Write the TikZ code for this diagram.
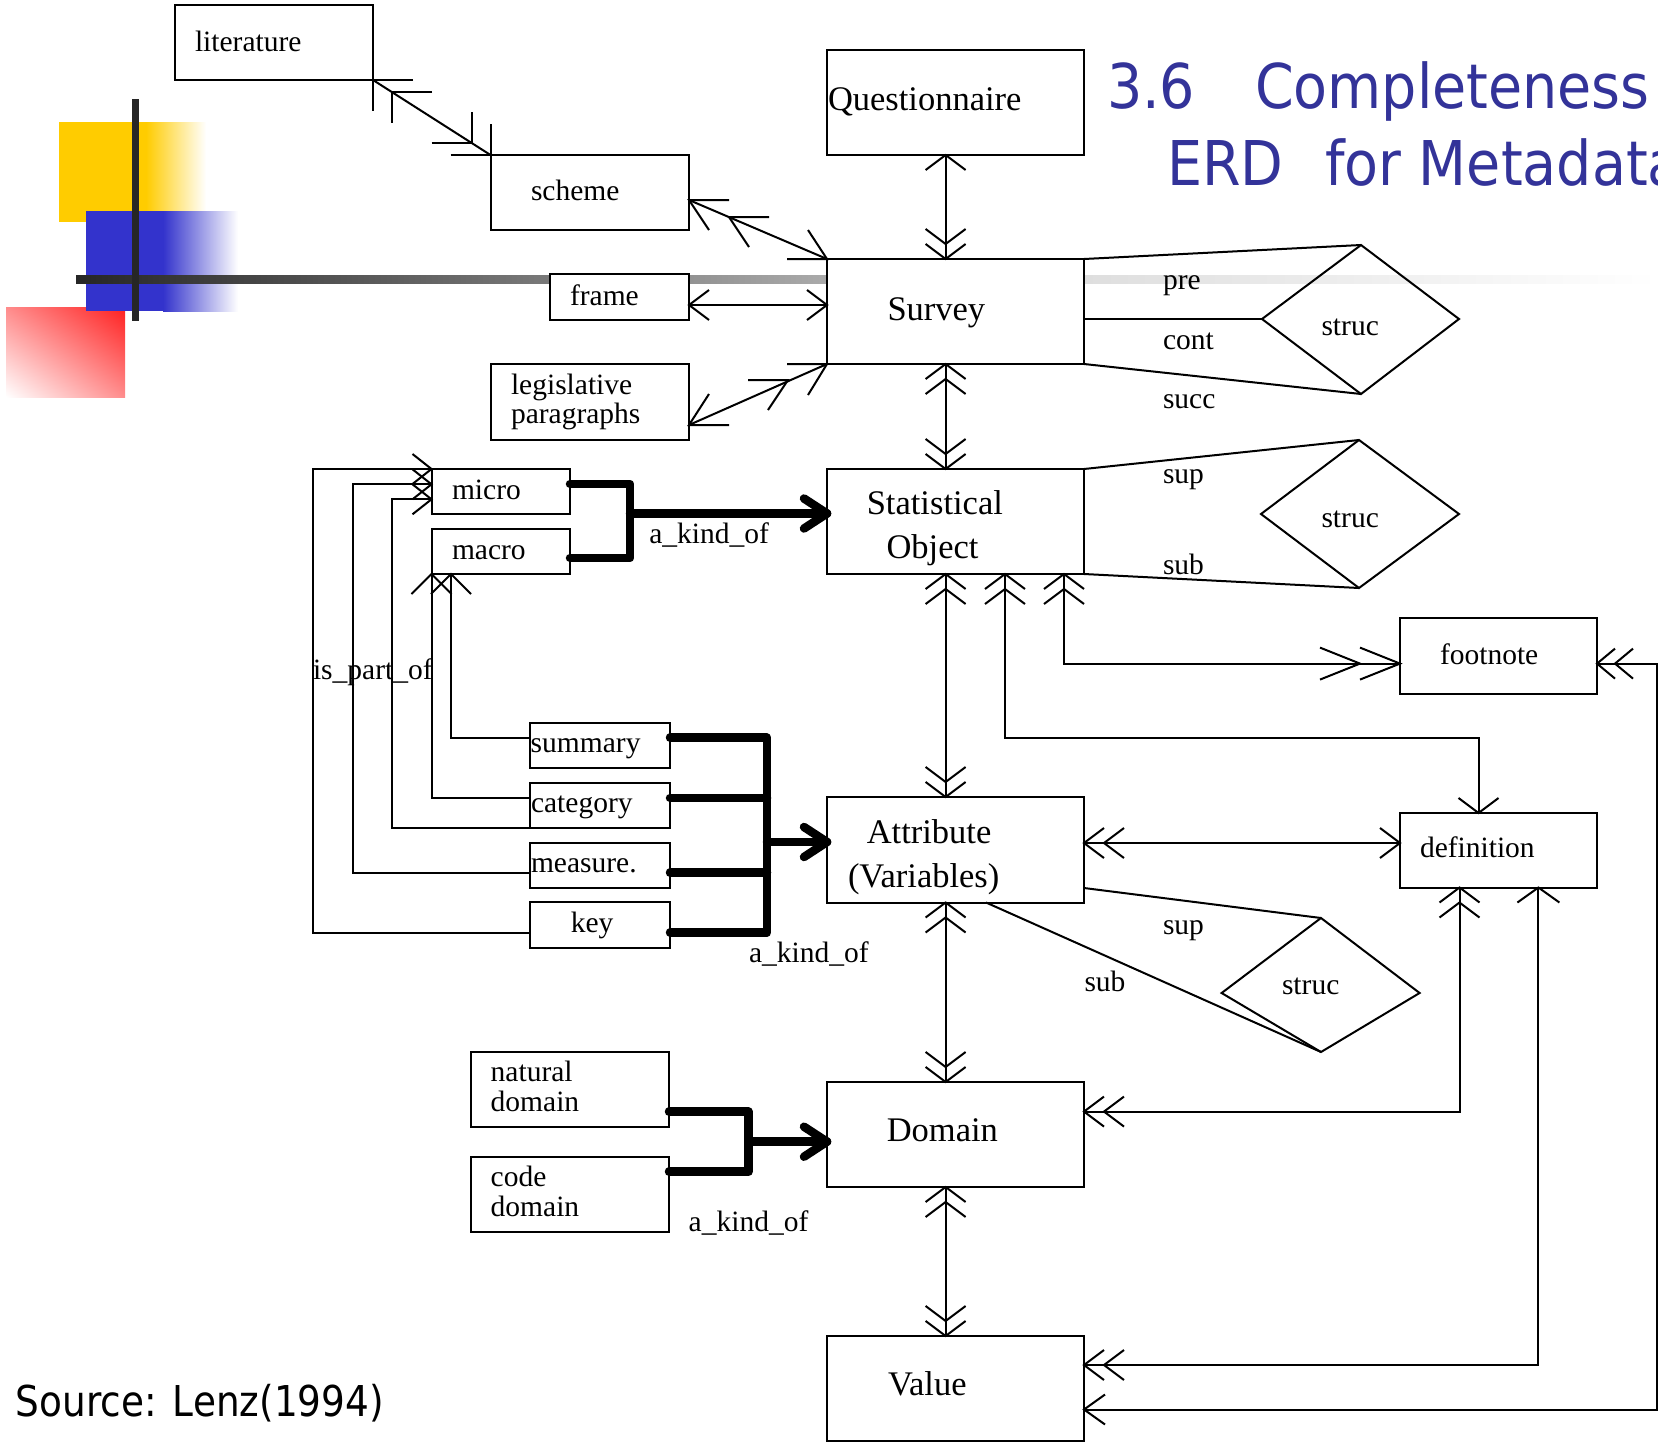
\documentclass[tikz,border=0pt]{standalone}
\usepackage{fontspec}
\setmainfont{Liberation Serif}
\newfontfamily\ttlfont{DejaVu Sans}[FakeStretch=0.9]
\newfontfamily\srcfont{DejaVu Sans}[FakeStretch=0.88]
\usetikzlibrary{calc,shadings}
\definecolor{ttlblue}{RGB}{51,51,153}
\definecolor{ylw}{RGB}{255,204,0}
\definecolor{blu}{RGB}{51,51,204}
\definecolor{rd}{RGB}{255,32,32}
\definecolor{rdl}{RGB}{255,140,140}
\definecolor{dk}{RGB}{38,38,38}
\definecolor{grayA}{RGB}{170,170,170}
\definecolor{grayB}{RGB}{222,222,222}
\tikzset{
  ln/.style={line width=2pt},
  thk/.style={line width=8.5pt, line cap=round, line join=round},
  ebox/.style={draw, line width=2pt, fill=white, inner sep=0pt, outer sep=0pt},
  st/.style={inner sep=0pt, outer sep=0pt, anchor=base west, font=\fontsize{29.5}{34}\selectfont},
  bt/.style={inner sep=0pt, outer sep=0pt, anchor=base west, font=\fontsize{34.5}{40}\selectfont},
  ttl/.style={inner sep=0pt, outer sep=0pt, anchor=base west, text=ttlblue, font=\ttlfont\fontsize{61.7}{70}\selectfont},
  src/.style={inner sep=0pt, outer sep=0pt, anchor=base west, font=\srcfont\fontsize{42.5}{48}\selectfont},
  pics/chv/.style 2 args={code={\draw[ln] (-#1,-#2) -- (0,0) -- (-#1,#2);}},
  pics/chvv/.style 2 args={code={\draw[ln] (-#1,-#2) -- (0,0) -- (-#1,#2) (-2*#1,-#2) -- (-#1,0) -- (-2*#1,#2);}},
  pics/tchv/.style 2 args={code={\draw[thk] (-#1,-#2) -- (0,0) -- (-#1,#2);}},
}
\newcommand\mkbox[5]{\node[ebox, minimum width={(#4)-(#2)}, minimum height={(#5)-(#3)}] (#1) at ({((#2)+(#4))/2},{((#3)+(#5))/2}) {};}
\begin{document}
\begin{tikzpicture}[x=1pt,y=-1pt]
\useasboundingbox (0,0) rectangle (1658,1446);
% ---------- slide decoration ----------
\fill[ylw] (59,122) rectangle (146,222);
\shade[left color=ylw, right color=white] (146,122) rectangle (206,222);
\shade[upper left=rdl, upper right=rd, lower left=white, lower right=rdl] (6,307) rectangle (125,397);
\fill[blu] (86,211) rectangle (163,311);
\shade[left color=blu, right color=white] (163,211) rectangle (238,311);
\shade[left color=dk, right color=grayA] (76,275) rectangle (827,283);
\shade[left color=grayB, right color=white] (1084,275) rectangle (1658,283);
\fill[dk] (132.2,99) rectangle (138.8,321);
% ---------- title ----------
\node[ttl] (t36) at (1107,108) {3.6};
\node[ttl] (tCompl) at (1255,108) {Completeness};
\node[ttl] (tERD) at (1167,185) {ERD};
\node[ttl] (tMeta) at (1325,185) {for Metadata};
\node[src] (tSrc) at (16,1416) {Source: Lenz(1994)};
% ---------- boxes ----------
\mkbox{lit}{175}{5}{373}{80}
\mkbox{scheme}{490.5}{155}{689}{230}
\mkbox{frame}{550}{274}{689}{320}
\mkbox{legis}{490.5}{364}{689}{440}
\mkbox{quest}{827}{50}{1084}{155}
\mkbox{survey}{827}{259}{1084}{364}
\mkbox{statobj}{827}{469}{1084}{574}
\mkbox{attr}{827}{797}{1084}{902.5}
\mkbox{domain}{827}{1082}{1084}{1187}
\mkbox{value}{827}{1336}{1084}{1441}
\mkbox{footnote}{1400}{618}{1597}{694}
\mkbox{definition}{1400}{813}{1597}{887.5}
\mkbox{micro}{431.5}{469}{570}{514}
\mkbox{macro}{431.5}{529}{570}{574}
\mkbox{summary}{530}{723}{670}{768}
\mkbox{category}{530}{783}{670}{828}
\mkbox{measure}{530}{843}{670}{888}
\mkbox{key}{530}{902}{670}{948}
\mkbox{natdom}{471}{1052}{669}{1127}
\mkbox{codedom}{471}{1157}{669}{1232}
% ---------- diamonds ----------
\coordinate (dSl) at (1262,319); \coordinate (dSt) at (1361,245);
\coordinate (dSr) at (1459,319); \coordinate (dSb) at (1361,394);
\coordinate (dOl) at (1261,514); \coordinate (dOt) at (1359,440);
\coordinate (dOr) at (1459,514); \coordinate (dOb) at (1359,588);
\coordinate (dAl) at (1221.6,993); \coordinate (dAt) at (1321,918);
\coordinate (dAr) at (1419.6,993); \coordinate (dAb) at (1321,1052);
\draw[ln, line join=miter] (dSl) -- (dSt) -- (dSr) -- (dSb) -- cycle;
\draw[ln, line join=miter] (dOl) -- (dOt) -- (dOr) -- (dOb) -- cycle;
\draw[ln, line join=miter] (dAl) -- (dAt) -- (dAr) -- (dAb) -- cycle;
\draw[ln] (survey.north east) -- (dSt);
\draw[ln] (survey.east |- dSl) -- (dSl);
\draw[ln] (survey.south east) -- (dSb);
\draw[ln] (statobj.north east) -- (dOt);
\draw[ln] (statobj.south east) -- (dOb);
\coordinate (aSupY) at (0,888);
\coordinate (aSubX) at (986,0);
\draw[ln] (attr.east |- aSupY) -- (dAt);
\draw[ln] (aSubX |- attr.south) -- (dAb);
% ---------- diagonal connectors ----------
% literature -- scheme
\draw[ln] (lit.south east) -- (scheme.north west);
\draw[ln] ($(lit.south east)+(40,0)$) -- (lit.south east) -- ++(0,31);
\draw[ln] ($(lit.south east)+(59,12)$) -- ++(-40,0) -- ++(0,31);
\draw[ln] ($(scheme.north west)+(-40,0)$) -- (scheme.north west) -- ++(0,-31);
\draw[ln] ($(scheme.north west)+(-59,-12)$) -- ++(40,0) -- ++(0,-31);
% scheme -- survey
\coordinate (bS) at ($(scheme.east)+(0,7.5)$);
\draw[ln] (bS) -- (survey.north west);
\draw[ln] ($(bS)+(40,0)$) -- (bS) -- ++(20,30);
\draw[ln] ($(bS)+(80,17)$) -- ++(-40,0) -- ++(20,30);
\draw[ln] ($(survey.north west)+(-40,0)$) -- (survey.north west) -- ++(-19,-29);
% frame -- survey
\coordinate (frY) at (0,305);
\draw[ln] (frame.east |- frY) -- (survey.west |- frY);
\pic[rotate=180] at (frame.east |- frY) {chv={20}{15}};
\pic at (survey.west |- frY) {chv={20}{15}};
% legislative -- survey
\coordinate (dL) at ($(legis.east)+(0,23)$);
\draw[ln] (dL) -- (survey.south west);
\draw[ln] ($(dL)+(40,0)$) -- (dL) -- ++(20,-31);
\draw[ln] ($(survey.south west)+(-40,0)$) -- (survey.south west) -- ++(-19,31);
\draw[ln] ($(survey.south west)+(-79,16)$) -- ++(40,0) -- ++(-20,30);
% ---------- vertical spine ----------
\coordinate (spine) at (945.6,0);
\draw[ln] (spine |- quest.south) -- (spine |- survey.north);
\pic[rotate=90] at (spine |- quest.south) {chv={15}{20}};
\pic[rotate=-90] at (spine |- survey.north) {chvv={15}{20}};
\draw[ln] (spine |- survey.south) -- (spine |- statobj.north);
\pic[rotate=90] at (spine |- survey.south) {chvv={15}{20}};
\pic[rotate=-90] at (spine |- statobj.north) {chvv={15}{20}};
\draw[ln] (spine |- statobj.south) -- (spine |- attr.north);
\pic[rotate=90] at (spine |- statobj.south) {chvv={15}{20}};
\pic[rotate=-90] at (spine |- attr.north) {chvv={15}{20}};
\draw[ln] (spine |- attr.south) -- (spine |- domain.north);
\pic[rotate=90] at (spine |- attr.south) {chvv={15}{20}};
\pic[rotate=-90] at (spine |- domain.north) {chvv={15}{20}};
\draw[ln] (spine |- domain.south) -- (spine |- value.north);
\pic[rotate=90] at (spine |- domain.south) {chvv={15}{20}};
\pic[rotate=-90] at (spine |- value.north) {chvv={15}{20}};
% ---------- right side connectors ----------
\coordinate (hX) at (1064,0);
\coordinate (fnY) at (0,663.6);
\draw[ln] (hX |- statobj.south) |- (footnote.west |- fnY);
\pic[rotate=90] at (hX |- statobj.south) {chvv={15}{20}};
\pic at (footnote.west |- fnY) {chvv={40}{16}};
\coordinate (iX) at (1005,0);
\coordinate (iX2) at (1478.5,0);
\coordinate (iY) at (0,738);
\draw[ln] (iX |- statobj.south) -- (iX |- iY) -- (iX2 |- iY) -- (iX2 |- definition.north);
\pic[rotate=90] at (iX |- statobj.south) {chvv={15}{20}};
\pic[rotate=-90] at (iX2 |- definition.north) {chv={15}{20}};
\coordinate (jY) at (0,843);
\draw[ln] (attr.east |- jY) -- (definition.west |- jY);
\pic[rotate=180] at (attr.east |- jY) {chvv={20}{15}};
\pic at (definition.west |- jY) {chv={20}{15}};
\coordinate (mX) at (1459.5,0);
\coordinate (mY) at (0,1111.6);
\draw[ln] (mX |- definition.south) |- (domain.east |- mY);
\pic[rotate=90] at (mX |- definition.south) {chvv={15}{20}};
\pic[rotate=180] at (domain.east |- mY) {chvv={20}{15}};
\coordinate (nX) at (1538.4,0);
\coordinate (nY) at (0,1365);
\draw[ln] (nX |- definition.south) |- (value.east |- nY);
\pic[rotate=90] at (nX |- definition.south) {chv={15}{21}};
\pic[rotate=180] at (value.east |- nY) {chvv={20}{15}};
\coordinate (oX) at (1656.5,0);
\coordinate (oY) at (0,1409.5);
\draw[ln] (footnote.east |- fnY) -- (oX |- fnY) -- (oX |- oY) -- (value.east |- oY);
\pic[rotate=180] at (footnote.east |- fnY) {chvv={18}{15}};
\pic[rotate=180] at (value.east |- oY) {chv={21}{15}};
% ---------- is_part_of ----------
\coordinate (sumY) at (0,737.7);
\coordinate (catY) at (0,798);
\coordinate (meaY) at (0,872.7);
\coordinate (keyY) at (0,932.5);
\coordinate (p1X) at (451,0);
\draw[ln] (summary.west |- sumY) -| (p1X |- macro.south);
\pic[rotate=90] at (p1X |- macro.south) {chv={20}{20}};
\draw[ln] (category.west |- catY) -| (macro.south west);
\pic[rotate=90] at (macro.south west) {chv={20}{20}};
\coordinate (p3X) at (392,0);
\coordinate (p3Y) at (0,499.3);
\draw[ln] (category.south west) -| (p3X |- p3Y) -- (micro.west |- p3Y);
\pic at (micro.west |- p3Y) {chv={19}{15}};
\coordinate (p4X) at (352.7,0);
\coordinate (p4Y) at (0,484.3);
\draw[ln] (measure.west |- meaY) -| (p4X |- p4Y) -- (micro.west |- p4Y);
\pic at (micro.west |- p4Y) {chv={19}{15}};
\coordinate (p5X) at (313,0);
\draw[ln] (key.west |- keyY) -| (p5X |- micro.north) -- (micro.north west);
\pic at (micro.north west) {chv={19}{15}};
% ---------- a_kind_of (thick) ----------
\coordinate (t1X) at (630,0);
\coordinate (t1a) at (0,484);
\coordinate (t1b) at (0,558);
\coordinate (t1m) at (0,513.5);
\draw[thk] (micro.east |- t1a) -| (t1X |- t1b) -- (macro.east |- t1b);
\draw[thk] (t1X |- t1m) -- (statobj.west |- t1m);
\pic at (statobj.west |- t1m) {tchv={23}{15}};
\coordinate (t2X) at (767,0);
\coordinate (t2m) at (0,842);
\draw[thk] (summary.east |- sumY) -| (t2X |- keyY) -- (key.east |- keyY);
\draw[thk] (category.east |- catY) -- (t2X |- catY);
\draw[thk] (measure.east |- meaY) -- (t2X |- meaY);
\draw[thk] (t2X |- t2m) -- (attr.west |- t2m);
\pic at (attr.west |- t2m) {tchv={23}{15}};
\coordinate (t3X) at (748.5,0);
\coordinate (ndY) at (0,1111.7);
\coordinate (cdY) at (0,1171.7);
\coordinate (t3m) at (0,1141.7);
\draw[thk] (natdom.east |- ndY) -| (t3X |- cdY) -- (codedom.east |- cdY);
\draw[thk] (t3X |- t3m) -- (domain.west |- t3m);
\pic at (domain.west |- t3m) {tchv={23}{15}};
% ---------- texts ----------
\node[st] (tLit) at (195,51) {literature};
\node[st] (tScheme) at (531,200) {scheme};
\node[st] (tFrame) at (570,305) {frame};
\node[st] (tLeg1) at (511,394) {legislative};
\node[st] (tLeg2) at (511,423) {paragraphs};
\node[bt] (tQuest) at (828,110) {Questionnaire};
\node[bt] (tSurvey) at (887.5,320) {Survey};
\node[st] (tPre) at (1163,289) {pre};
\node[st] (tCont) at (1163,349) {cont};
\node[st] (tSucc) at (1163,408) {succ};
\node[st] (tStrucS) at (1321.5,335) {struc};
\node[bt] (tStat1) at (866.8,514) {Statistical};
\node[bt] (tStat2) at (886.5,558) {Object};
\node[st] (tSupO) at (1163,483.6) {sup};
\node[st] (tSubO) at (1163,574) {sub};
\node[st] (tStrucO) at (1321.5,527.5) {struc};
\node[st] (tFoot) at (1440,664) {footnote};
\node[st] (tDef) at (1420,857) {definition};
\node[bt] (tAttr1) at (866.8,843) {Attribute};
\node[bt] (tAttr2) at (848,887) {(Variables)};
\node[st] (tSupA) at (1163,934.6) {sup};
\node[st] (tSubA) at (1084.5,991.8) {sub};
\node[st] (tStrucA) at (1282,994) {struc};
\node[st] (tMicro) at (452,499.3) {micro};
\node[st] (tMacro) at (452,559) {macro};
\node[st] (tAko1) at (649.3,543.3) {a\_kind\_of};
\node[st] (tIpo) at (313,679.5) {is\_part\_of};
\node[st] (tSum) at (530.7,752.7) {summary};
\node[st] (tCat) at (531,812.7) {category};
\node[st] (tMea) at (531,872.7) {measure.};
\node[st] (tKey) at (570.8,932.7) {key};
\node[st] (tAko2) at (749,962) {a\_kind\_of};
\node[st] (tNat1) at (490.7,1081.7) {natural};
\node[st] (tNat2) at (490.7,1111.7) {domain};
\node[st] (tCode1) at (490.7,1186.7) {code};
\node[st] (tCode2) at (490.7,1216) {domain};
\node[st] (tAko3) at (688.7,1231.7) {a\_kind\_of};
\node[bt] (tDomain) at (886.8,1141.7) {Domain};
\node[bt] (tValue) at (888,1395) {Value};
\end{tikzpicture}
\end{document}
